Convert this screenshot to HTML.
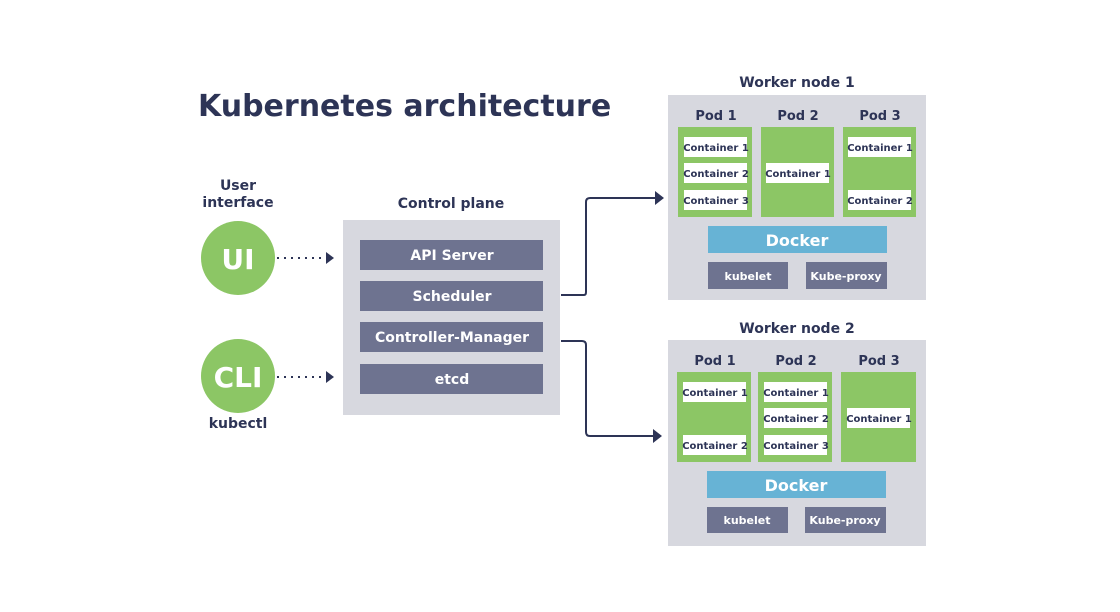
<!DOCTYPE html>
<html><head><meta charset="utf-8"><style>
html,body{margin:0;padding:0;background:#fff;width:1120px;height:612px;overflow:hidden}
text{font-family:"DejaVu Sans","Liberation Sans",sans-serif;font-weight:bold}
</style></head><body>
<svg width="1120" height="612" viewBox="0 0 1120 612" xmlns="http://www.w3.org/2000/svg">
<text x="198" y="116" font-size="30" fill="#2d3456">Kubernetes architecture</text>

<!-- left -->
<text x="238" y="190" font-size="14" fill="#2d3456" text-anchor="middle">User</text>
<text x="238" y="207" font-size="14" fill="#2d3456" text-anchor="middle">interface</text>
<circle cx="238" cy="258" r="37" fill="#8cc665"/>
<text x="238" y="269" font-size="28" fill="#fff" text-anchor="middle">UI</text>
<circle cx="238" cy="376" r="37" fill="#8cc665"/>
<text x="238" y="387" font-size="28" fill="#fff" text-anchor="middle">CLI</text>
<text x="238" y="428" font-size="14" fill="#2d3456" text-anchor="middle">kubectl</text>
<line x1="277" y1="258" x2="326" y2="258" stroke="#2d3456" stroke-width="2" stroke-dasharray="2,5"/>
<path d="M326,252 L334,258 L326,264 Z" fill="#2d3456"/>
<line x1="277" y1="377" x2="326" y2="377" stroke="#2d3456" stroke-width="2" stroke-dasharray="2,5"/>
<path d="M326,371 L334,377 L326,383 Z" fill="#2d3456"/>

<!-- control plane -->
<text x="451" y="208" font-size="14" fill="#2d3456" text-anchor="middle">Control plane</text>
<rect x="343" y="220" width="217" height="195" fill="#d7d8df"/>
<g fill="#6e7390">
<rect x="360" y="240" width="183" height="30"/><rect x="360" y="281" width="183" height="30"/>
<rect x="360" y="322" width="183" height="30"/><rect x="360" y="364" width="183" height="30"/>
</g>
<g font-size="14" fill="#fff" text-anchor="middle">
<text x="452" y="260">API Server</text><text x="452" y="301">Scheduler</text>
<text x="452" y="342">Controller-Manager</text><text x="452" y="384">etcd</text>
</g>

<!-- connectors -->
<path d="M561,295 H584 Q586,295 586,292 V202 Q586,198 590,198 H656" fill="none" stroke="#2d3456" stroke-width="2"/>
<path d="M655,191 L664,198 L655,205 Z" fill="#2d3456"/>
<path d="M561,341 H582 Q586,341 586,345 V432 Q586,436 590,436 H654" fill="none" stroke="#2d3456" stroke-width="2"/>
<path d="M653,429 L662,436 L653,443 Z" fill="#2d3456"/>

<!-- worker 1 -->
<text x="797" y="87" font-size="14" fill="#2d3456" text-anchor="middle">Worker node 1</text>
<rect x="668" y="95" width="258" height="205" fill="#d7d8df"/>
<g font-size="13" fill="#2d3456" text-anchor="middle"><text x="716" y="120">Pod 1</text><text x="798" y="120">Pod 2</text><text x="880" y="120">Pod 3</text></g>
<g fill="#8cc665"><rect x="678" y="127" width="74" height="90"/><rect x="761" y="127" width="73" height="90"/><rect x="843" y="127" width="73" height="90"/></g>
<g fill="#fff"><rect x="684" y="137" width="63" height="20"/><rect x="684" y="163" width="63" height="20"/><rect x="684" y="190" width="63" height="20"/>
<rect x="766" y="163" width="63" height="20"/><rect x="848" y="137" width="63" height="20"/><rect x="848" y="190" width="63" height="20"/></g>
<g font-size="10" fill="#2d3456" text-anchor="middle">
<text x="716" y="151">Container 1</text><text x="716" y="177">Container 2</text><text x="716" y="204">Container 3</text>
<text x="798" y="177">Container 1</text><text x="880" y="151">Container 1</text><text x="880" y="204">Container 2</text></g>
<rect x="708" y="226" width="179" height="27" fill="#67b3d5"/>
<text x="797" y="246" font-size="16" fill="#fff" text-anchor="middle">Docker</text>
<rect x="708" y="262" width="80" height="27" fill="#6e7390"/><rect x="806" y="262" width="81" height="27" fill="#6e7390"/>
<g font-size="11" fill="#fff" text-anchor="middle"><text x="748" y="280">kubelet</text><text x="846" y="280">Kube-proxy</text></g>

<!-- worker 2 -->
<text x="797" y="333" font-size="14" fill="#2d3456" text-anchor="middle">Worker node 2</text>
<rect x="668" y="340" width="258" height="206" fill="#d7d8df"/>
<g font-size="13" fill="#2d3456" text-anchor="middle"><text x="715" y="365">Pod 1</text><text x="796" y="365">Pod 2</text><text x="879" y="365">Pod 3</text></g>
<g fill="#8cc665"><rect x="677" y="372" width="74" height="90"/><rect x="758" y="372" width="74" height="90"/><rect x="841" y="372" width="75" height="90"/></g>
<g fill="#fff"><rect x="683" y="382" width="63" height="20"/><rect x="683" y="435" width="63" height="20"/>
<rect x="764" y="382" width="63" height="20"/><rect x="764" y="408" width="63" height="20"/><rect x="764" y="435" width="63" height="20"/>
<rect x="847" y="408" width="63" height="20"/></g>
<g font-size="10" fill="#2d3456" text-anchor="middle">
<text x="715" y="396">Container 1</text><text x="715" y="449">Container 2</text>
<text x="796" y="396">Container 1</text><text x="796" y="422">Container 2</text><text x="796" y="449">Container 3</text>
<text x="879" y="422">Container 1</text></g>
<rect x="707" y="471" width="179" height="27" fill="#67b3d5"/>
<text x="796" y="491" font-size="16" fill="#fff" text-anchor="middle">Docker</text>
<rect x="707" y="507" width="81" height="26" fill="#6e7390"/><rect x="805" y="507" width="81" height="26" fill="#6e7390"/>
<g font-size="11" fill="#fff" text-anchor="middle"><text x="747" y="524">kubelet</text><text x="845" y="524">Kube-proxy</text></g>
</svg>
</body></html>
